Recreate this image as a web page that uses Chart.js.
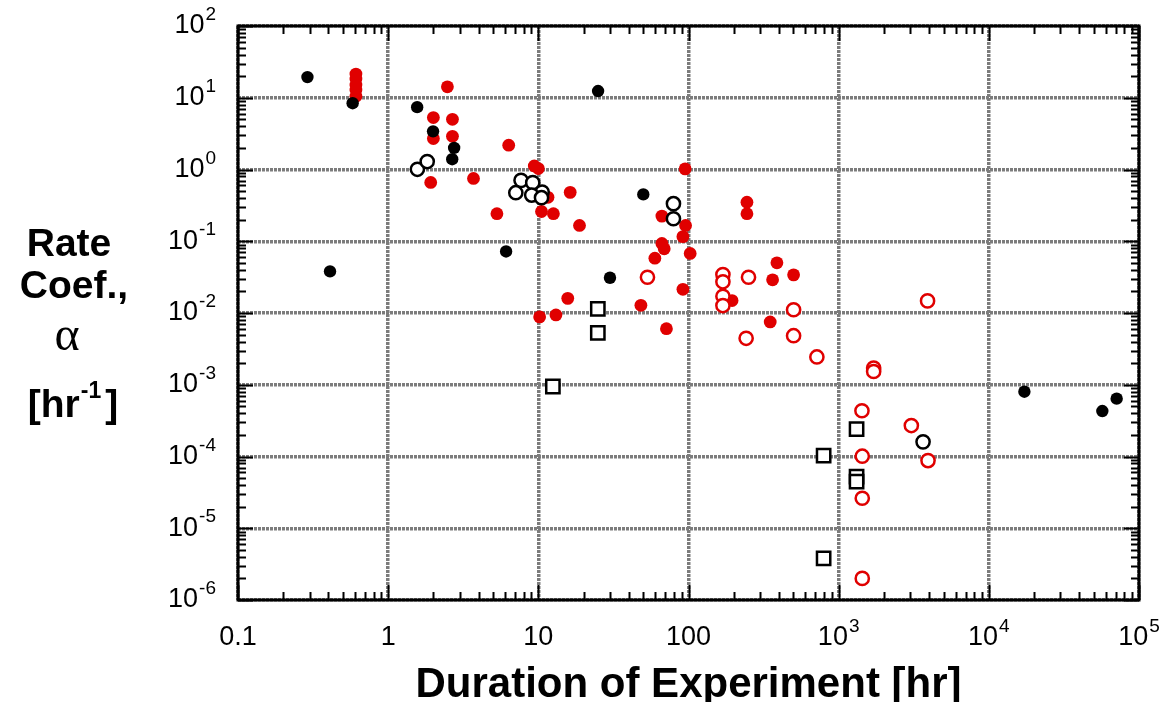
<!DOCTYPE html>
<html>
<head>
<meta charset="utf-8">
<script src="https://cdn.jsdelivr.net/npm/chart.js@4.4.1/dist/chart.umd.min.js"></script>
<style>
  body { margin: 0; background: #fff; }
  #wrap { width: 1168px; height: 702px; }
</style>
</head>
<body>
<div id="wrap"><canvas id="chart"></canvas></div>
<script>
// axis decades and their labels
const xDecades = [0.1, 1, 10, 100, 1e3, 1e4, 1e5];
const xTickLabels = [['0.1'], ['1'], ['10'], ['100'], ['10', '3'], ['10', '4'], ['10', '5']];
const yDecades = [1e-6, 1e-5, 1e-4, 1e-3, 1e-2, 1e-1, 1, 10, 100];
const yTickLabels = [['10', '-6'], ['10', '-5'], ['10', '-4'], ['10', '-3'], ['10', '-2'],
                     ['10', '-1'], ['10', '0'], ['10', '1'], ['10', '2']];

// black filled circles
const blackDotX = [0.29, 0.58, 0.41, 1.56, 1.99, 2.75, 2.67, 25, 6.1, 50, 30, 17250, 57000, 71000];
const blackDotY = [19.4, 8.4, 0.038, 7.4, 3.4, 2.0, 1.39, 12.4, 0.072, 0.45, 0.031, 0.0008, 0.00043, 0.00064];

// red filled circles
const redDotX = [0.61, 0.61, 0.61, 0.61, 0.61, 2.48, 2.0, 2.68, 2.0, 2.68,
                 1.92, 3.7, 6.35, 5.3, 9.4, 10.0, 11.6, 10.5, 12.6, 16.3,
                 18.8, 95, 66.5, 95.6, 245, 245, 91.8, 66.5, 68.9, 102.6,
                 59.7, 91.8, 15.7, 48.2, 10.2, 13.1, 71.3, 195, 388, 363,
                 501, 350];
const redDotY = [21.4, 18.2, 15, 12.8, 10.5, 14.2, 5.3, 5.0, 2.7, 2.9,
                 0.66, 0.75, 2.18, 0.242, 1.12, 1.03, 0.41, 0.26, 0.242, 0.48,
                 0.166, 1.02, 0.224, 0.166, 0.35, 0.242, 0.116, 0.093, 0.0785, 0.0676,
                 0.058, 0.0214, 0.016, 0.0128, 0.00883, 0.0094, 0.00605, 0.0149, 0.05, 0.029,
                 0.034, 0.0075];

// red open circles
const redRingX = [53.3, 169.5, 169.5, 169.5, 169.5, 251, 501, 242, 501, 716,
                  3908, 1710, 1710, 1429, 3048, 3936, 1436, 1436, 1436];
const redRingY = [0.0315, 0.0344, 0.0272, 0.0171, 0.0127, 0.0315, 0.0111, 0.00444, 0.00483, 0.00244,
                  0.01475, 0.00171, 0.00153, 0.000434, 0.00027, 0.0000877, 0.000101, 0.0000262, 0.000002];

// black open circles
const blackRingX = [1.565, 1.82, 7.67, 9.18, 10.6, 7.08, 9.03, 10.5, 79.4, 79.4, 3648];
const blackRingY = [1.006, 1.29, 0.706, 0.656, 0.485, 0.475, 0.44, 0.405, 0.334, 0.206, 0.00016];

// black open squares
const squareX = [24.9, 24.9, 12.5, 1316, 794, 1316, 1316, 794];
const squareY = [0.0114, 0.00527, 0.000946, 0.00024, 0.000103, 0.0000525, 0.0000447, 0.0000038];

const RED = '#e00000';
const FONT = '"Liberation Sans", Arial, sans-serif';

function pts(xs, ys) {
  return xs.map((x, i) => ({ x: x, y: ys[i] }));
}

// "10" with a raised exponent, centred or right aligned
function drawPowerLabel(ctx, parts, x, y, align) {
  ctx.font = '27px ' + FONT;
  const wBase = ctx.measureText(parts[0]).width;
  let wSup = 0;
  if (parts[1]) {
    ctx.font = '19px ' + FONT;
    wSup = ctx.measureText(parts[1]).width + 1;
  }
  const total = wBase + wSup;
  const x0 = align === 'right' ? x - total : x - total / 2;
  ctx.textAlign = 'left';
  ctx.textBaseline = 'middle';
  ctx.font = '27px ' + FONT;
  ctx.fillText(parts[0], x0, y);
  if (parts[1]) {
    ctx.font = '19px ' + FONT;
    ctx.fillText(parts[1], x0 + wBase + 1, y - 11);
  }
}

const framePlugin = {
  id: 'frame',
  afterDraw(chart) {
    const ctx = chart.ctx;
    const a = chart.chartArea;
    const xs = chart.scales.x;
    const ys = chart.scales.y;
    ctx.save();
    ctx.fillStyle = '#000';
    ctx.strokeStyle = '#000';

    // inward tick marks on all four sides
    ctx.lineWidth = 2;
    ctx.beginPath();
    for (let d = 0; d < xDecades.length; d++) {
      for (let m = 1; m <= 9; m++) {
        const v = xDecades[d] * m;
        if (v > xDecades[xDecades.length - 1]) break;
        const px = Math.round(xs.getPixelForValue(v)) + 0.5;
        const len = m === 1 ? 15 : 8;
        ctx.moveTo(px, a.bottom); ctx.lineTo(px, a.bottom - len);
        ctx.moveTo(px, a.top); ctx.lineTo(px, a.top + len);
      }
    }
    for (let d = 0; d < yDecades.length; d++) {
      for (let m = 1; m <= 9; m++) {
        const v = yDecades[d] * m;
        if (v > yDecades[yDecades.length - 1]) break;
        const py = Math.round(ys.getPixelForValue(v)) + 0.5;
        const len = m === 1 ? 15 : 8;
        ctx.moveTo(a.left, py); ctx.lineTo(a.left + len, py);
        ctx.moveTo(a.right, py); ctx.lineTo(a.right - len, py);
      }
    }
    ctx.stroke();

    // frame
    ctx.lineWidth = 3;
    ctx.strokeRect(a.left, a.top, a.right - a.left, a.bottom - a.top);

    // tick labels
    xDecades.forEach((v, i) => {
      drawPowerLabel(ctx, xTickLabels[i], xs.getPixelForValue(v), 638, 'center');
    });
    yDecades.forEach((v, i) => {
      drawPowerLabel(ctx, yTickLabels[i], 216, ys.getPixelForValue(v), 'right');
    });

    // axis titles
    ctx.textAlign = 'center';
    ctx.textBaseline = 'alphabetic';
    ctx.font = 'bold 42px ' + FONT;
    ctx.fillText('Duration of Experiment [hr]', (a.left + a.right) / 2, 697);

    ctx.font = 'bold 39px ' + FONT;
    ctx.fillText('Rate', 69, 256);
    ctx.fillText('Coef.,', 74, 298);
    ctx.font = '48px "Liberation Serif", serif';
    ctx.fillText('\u03b1', 67, 350);

    // [hr^-1]
    ctx.font = 'bold 39px ' + FONT;
    const w1 = ctx.measureText('[hr').width;
    const w3 = ctx.measureText(']').width;
    ctx.font = 'bold 23px ' + FONT;
    const w2 = ctx.measureText('-1').width;
    const start = 73 - (w1 + w2 + w3 + 5) / 2;
    ctx.textAlign = 'left';
    ctx.font = 'bold 39px ' + FONT;
    ctx.fillText('[hr', start, 417);
    ctx.font = 'bold 23px ' + FONT;
    ctx.fillText('-1', start + w1 + 1, 398);
    ctx.font = 'bold 39px ' + FONT;
    ctx.fillText(']', start + w1 + w2 + 5, 417);
    ctx.restore();
  }
};

const decadeTicks = (list) => (scale) => {
  scale.ticks = list.map(v => ({ value: v }));
};

const gridStyle = { color: '#7c7c7c', lineWidth: 3.5, drawTicks: false };

new Chart(document.getElementById('chart'), {
  type: 'scatter',
  data: {
    datasets: [
      { label: 'black open', data: pts(blackRingX, blackRingY), order: 1,
        pointStyle: 'circle', pointRadius: 6.6, pointBorderWidth: 2.5,
        pointBorderColor: '#000', pointBackgroundColor: '#fff' },
      { label: 'red open', data: pts(redRingX, redRingY), order: 1,
        pointStyle: 'circle', pointRadius: 6.6, pointBorderWidth: 2.5,
        pointBorderColor: RED, pointBackgroundColor: '#fff' },
      { label: 'squares', data: pts(squareX, squareY), order: 1,
        pointStyle: 'rect', pointRadius: 9.4, pointBorderWidth: 2.5,
        pointBorderColor: '#000', pointBackgroundColor: '#fff' },
      { label: 'black filled', data: pts(blackDotX, blackDotY), order: 2,
        pointStyle: 'circle', pointRadius: 6.2, pointBorderWidth: 0,
        pointBackgroundColor: '#000' },
      { label: 'red filled', data: pts(redDotX, redDotY), order: 3,
        pointStyle: 'circle', pointRadius: 6.4, pointBorderWidth: 0,
        pointBackgroundColor: RED }
    ]
  },
  options: {
    responsive: true,
    maintainAspectRatio: false,
    animation: false,
    layout: { padding: { left: 238, top: 26, right: 29, bottom: 102 } },
    plugins: { legend: { display: false }, tooltip: { enabled: false } },
    scales: {
      x: {
        type: 'logarithmic', min: 0.1, max: 1e5,
        afterBuildTicks: decadeTicks(xDecades),
        ticks: { display: false },
        grid: gridStyle,
        border: { display: false, dash: [3, 1] }
      },
      y: {
        type: 'logarithmic', min: 1e-6, max: 100,
        afterBuildTicks: decadeTicks(yDecades),
        ticks: { display: false },
        grid: gridStyle,
        border: { display: false, dash: [3, 1] }
      }
    }
  },
  plugins: [framePlugin]
});
</script>
</body>
</html>
